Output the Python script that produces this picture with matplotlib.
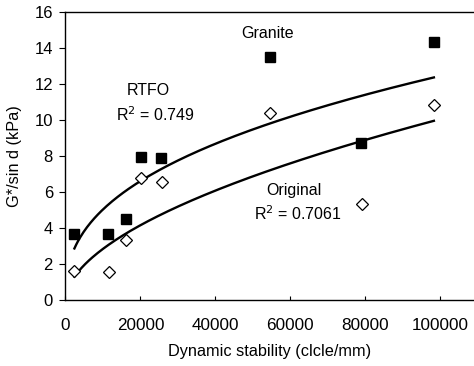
import numpy as np
import matplotlib

matplotlib.use("Agg")
import matplotlib.pyplot as plt

plt.rcParams["font.family"] = ["Liberation Sans", "DejaVu Sans"]

# dynamic stability (cycle/mm) and G*/sin d (kPa)
rtfo_x = [2200, 11300, 16100, 20200, 25500, 54500, 78900, 98300]
rtfo_y = [3.67, 3.70, 4.48, 7.94, 7.90, 13.48, 8.70, 14.35]
orig_x = [2300, 11700, 16200, 20100, 25700, 54600, 79000, 98300]
orig_y = [1.63, 1.57, 3.33, 6.80, 6.57, 10.40, 5.32, 10.83]

# power trend lines as drawn (start/end points)
rtfo_fit_x = [2400, 98300]
rtfo_fit_y = [2.87, 12.37]
orig_fit_x = [2400, 98300]
orig_fit_y = [1.30, 9.96]


def power_curve(px, py, n=200):
    b = np.log(py[1] / py[0]) / np.log(px[1] / px[0])
    a = py[0] / px[0] ** b
    xs = np.linspace(px[0], px[1], n)
    return xs, a * xs ** b


fig = plt.figure(figsize=(4.74, 3.66), dpi=100)
ax = fig.add_axes([0.138, 0.180, 0.862, 0.787])

for fx, fy in [(rtfo_fit_x, rtfo_fit_y), (orig_fit_x, orig_fit_y)]:
    xs, ys = power_curve(fx, fy)
    ax.plot(xs, ys, color="black", lw=1.7)

ax.plot(rtfo_x, rtfo_y, "s", color="black", ms=7.2, ls="none")
ax.plot(orig_x, orig_y, "D", mfc="white", mec="black", mew=0.9, ms=6.3, ls="none")

ax.set_xlim(0, 109000)
ax.set_ylim(0, 16)
ax.set_xticks([0, 20000, 40000, 60000, 80000, 100000])
ax.set_yticks(range(0, 17, 2))
ax.spines["right"].set_visible(False)
for s in ["left", "bottom", "top"]:
    ax.spines[s].set_linewidth(1.0)
ax.tick_params(axis="x", direction="in", length=3, labelsize=12.3, pad=13)
ax.tick_params(axis="y", direction="out", length=4, labelsize=12, pad=5)

ax.set_xlabel("Dynamic stability (clcle/mm)", fontsize=11.7, labelpad=8)
ax.set_ylabel("G*/sin d (kPa)", fontsize=11.7, labelpad=9)

ax.text(53800, 14.83, "Granite", fontsize=11.5, ha="center", va="center")
ax.text(22000, 11.67, "RTFO", fontsize=11.5, ha="center", va="center")
ax.text(24000, 10.28, "R$^2$ = 0.749", fontsize=11.5, ha="center", va="center")
ax.text(61000, 6.11, "Original", fontsize=11.5, ha="center", va="center")
ax.text(62000, 4.83, "R$^2$ = 0.7061", fontsize=11.5, ha="center", va="center")

fig.savefig("out.png", dpi=100)
